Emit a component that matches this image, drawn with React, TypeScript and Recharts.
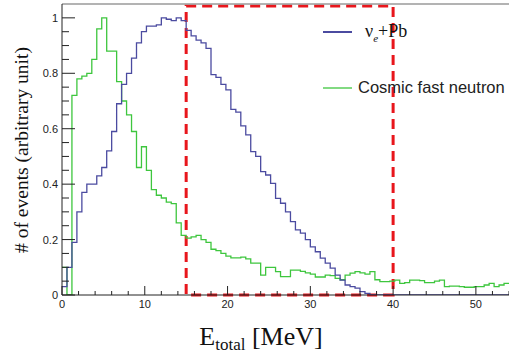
import React from 'react';
import { LineChart, Line, XAxis, YAxis, ReferenceArea, ReferenceLine, Legend, Label } from 'recharts';

// Histogram binning (MeV)
const BIN_WIDTH = 0.6;
const X_MAX = 54;

// nu_e + Pb signal (normalised to peak = 1), one value per 0.6 MeV bin from 0 MeV
const nuePb = [
  0.03, 0.10, 0.19, 0.30, 0.37, 0.40, 0.40, 0.43, 0.46, 0.52,
  0.59, 0.69, 0.76, 0.80, 0.855, 0.91, 0.95, 0.97, 0.97, 0.975,
  1.0, 0.995, 0.99, 1.0, 0.99, 0.955, 0.935, 0.92, 0.91, 0.89,
  0.795, 0.785, 0.76, 0.74, 0.67, 0.66, 0.61, 0.578, 0.517, 0.50,
  0.445, 0.433, 0.403, 0.349, 0.331, 0.30, 0.265, 0.235, 0.223, 0.20,
  0.174, 0.156, 0.133, 0.115, 0.097, 0.072, 0.054, 0.036, 0.03, 0.025,
  0.012, 0.006, 0, 0, 0, 0, 0, 0, 0, 0,
  0, 0, 0, 0, 0, 0, 0, 0, 0, 0,
  0, 0, 0, 0, 0, 0, 0, 0, 0, 0,
];

// Cosmic fast neutron background
const cosmicNeutron = [
  0.10, 0.0, 0.72, 0.78, 0.79, 0.80, 0.85, 0.96, 1.0, 0.88,
  0.88, 0.77, 0.70, 0.65, 0.59, 0.46, 0.535, 0.45, 0.38, 0.36,
  0.35, 0.335, 0.33, 0.26, 0.215, 0.205, 0.21, 0.215, 0.20, 0.19,
  0.165, 0.16, 0.15, 0.14, 0.134, 0.134, 0.137, 0.13, 0.115, 0.115,
  0.072, 0.10, 0.10, 0.084, 0.066, 0.066, 0.09, 0.09, 0.085, 0.08,
  0.075, 0.065, 0.065, 0.072, 0.07, 0.06, 0.055, 0.072, 0.079, 0.084,
  0.08, 0.075, 0.084, 0.055, 0.048, 0.048, 0.05, 0.054, 0.042, 0.045,
  0.054, 0.054, 0.052, 0.045, 0.045, 0.05, 0.054, 0.03, 0.032, 0.032,
  0.03, 0.028, 0.028, 0.03, 0.03, 0.036, 0.042, 0.03, 0.036, 0.042,
];

const xTicks = [0, 2, 4, 6, 8, 10, 12, 14, 16, 18, 20, 22, 24, 26, 28, 30, 32, 34, 36, 38, 40, 42, 44, 46, 48, 50, 52, 54];
const xMajorTicks = [0, 10, 20, 30, 40, 50];
const xTickLabels = ['0', '10', '20', '30', '40', '50'];

const yTicks = [0, 0.05, 0.1, 0.15, 0.2, 0.25, 0.3, 0.35, 0.4, 0.45, 0.5, 0.55, 0.6, 0.65, 0.7, 0.75, 0.8, 0.85, 0.9, 0.95, 1.0];
const yMajorTicks = [0, 0.2, 0.4, 0.6, 0.8, 1.0];
const yTickLabels = ['0', '0.2', '0.4', '0.6', '0.8', '1'];
const Y_MAX = 1.05;

const selectionWindow = { x1: 15, x2: 40, y1: 0, y2: 1.043 };

const BLUE = '#4b4ba0';
const GREEN = '#3ec63e';
const RED = '#e8161c';

const rows = nuePb.map((v, i) => ({
  x: Math.round(i * BIN_WIDTH * 100) / 100,
  nue: v,
  neutron: cosmicNeutron[i],
}));
rows.push({ x: X_MAX, nue: nuePb[nuePb.length - 1], neutron: cosmicNeutron[cosmicNeutron.length - 1] });

const SANS = '"Liberation Sans", Arial, sans-serif';
const SERIF = '"Liberation Serif", "Times New Roman", serif';

const XTick = (props: any) => {
  const { x, y, payload } = props;
  const idx = xMajorTicks.findIndex((m) => Math.abs(m - payload.value) < 1e-6);
  const major = idx >= 0;
  return (
    <g>
      <line x1={x} x2={x} y1={y} y2={y - (major ? 9 : 4)} stroke="#222" strokeWidth={1} />
      {major && (
        <text x={x} y={y + 13} textAnchor="middle" fontSize={11} style={{ fontFamily: SANS }} fill="#222">
          {xTickLabels[idx]}
        </text>
      )}
    </g>
  );
};

const YTick = (props: any) => {
  const { x, y, payload } = props;
  const idx = yMajorTicks.findIndex((m) => Math.abs(m - payload.value) < 1e-6);
  const major = idx >= 0;
  return (
    <g>
      <line x1={x} x2={x + (major ? 13 : 7)} y1={y} y2={y} stroke="#222" strokeWidth={1} />
      {major && (
        <text x={x - 4} y={y + 4} textAnchor="end" fontSize={11} style={{ fontFamily: SANS }} fill="#222">
          {yTickLabels[idx]}
        </text>
      )}
    </g>
  );
};

const renderLegend = () => (
  <div style={{ position: 'relative', width: 190, height: 90 }}>
    <svg style={{ position: 'absolute', left: 0, top: 0 }} width={40} height={90}>
      <line x1={3} x2={32} y1={14} y2={14} stroke={BLUE} strokeWidth={2} />
      <line x1={3} x2={32} y1={70} y2={70} stroke={GREEN} strokeWidth={1.3} />
    </svg>
    <div
      style={{
        position: 'absolute',
        left: 45,
        top: 3,
        fontFamily: SERIF,
        fontSize: 18,
        lineHeight: '20px',
        color: '#111',
        whiteSpace: 'nowrap',
      }}
    >
      ν<sub style={{ fontSize: 11, lineHeight: 0, fontStyle: 'italic' }}>e</sub>+Pb
    </div>
    <div
      style={{
        position: 'absolute',
        left: 38,
        top: 60,
        fontFamily: SANS,
        fontSize: 16.5,
        lineHeight: '19px',
        color: '#222',
        whiteSpace: 'nowrap',
      }}
    >
      Cosmic fast neutron
    </div>
  </div>
);

export default function App() {
  return (
    <div style={{ position: 'absolute', left: 0, top: 0, width: 509, height: 355, background: '#fff' }}>
      <LineChart
        width={509}
        height={355}
        data={rows}
        margin={{ top: 4, right: 0, left: 0, bottom: 30 }}
      >
        <XAxis
          dataKey="x"
          type="number"
          domain={[0, X_MAX]}
          ticks={xTicks}
          interval={0}
          tickSize={0}
          tickMargin={0}
          tickLine={false}
          tick={<XTick />}
          axisLine={{ stroke: '#222', strokeWidth: 1 }}
          allowDataOverflow
          height={30}
        >
          <Label
            content={() => (
              <text x={261} y={345} textAnchor="middle" fontSize={26} fill="#111" style={{ fontFamily: SERIF }}>
                <tspan>E</tspan>
                <tspan fontSize={17} dy={5}>total</tspan>
                <tspan dy={-5}> [MeV]</tspan>
              </text>
            )}
          />
        </XAxis>
        <YAxis
          type="number"
          domain={[0, Y_MAX]}
          ticks={yTicks}
          interval={0}
          tickSize={0}
          tickMargin={0}
          tickLine={false}
          tick={<YTick />}
          axisLine={{ stroke: '#222', strokeWidth: 1 }}
          allowDataOverflow
          width={62}
        >
          <Label
            content={() => (
              <text
                x={0}
                y={0}
                transform="translate(28,150) rotate(-90)"
                textAnchor="middle"
                fontSize={19.5}
                fill="#111"
                style={{ fontFamily: SERIF }}
              >
                # of events (arbitrary unit)
              </text>
            )}
          />
        </YAxis>
        <ReferenceLine y={Y_MAX} stroke="#9a9a9a" strokeWidth={1.5} />
        <Line
          type="stepAfter"
          dataKey="neutron"
          stroke={GREEN}
          strokeWidth={1.3}
          dot={false}
          isAnimationActive={false}
        />
        <Line
          type="stepAfter"
          dataKey="nue"
          stroke={BLUE}
          strokeWidth={1.3}
          dot={false}
          isAnimationActive={false}
        />
        <ReferenceArea
          x1={selectionWindow.x1}
          x2={selectionWindow.x2}
          y1={selectionWindow.y1}
          y2={selectionWindow.y2}
          fill="none"
          fillOpacity={0}
          stroke={RED}
          strokeWidth={3}
          strokeDasharray="10 6"
        />
        <Legend
          layout="horizontal"
          verticalAlign="middle"
          align="center"
          content={renderLegend}
          wrapperStyle={{ left: 320, top: 18, width: 190, height: 90 }}
        />
      </LineChart>
    </div>
  );
}
